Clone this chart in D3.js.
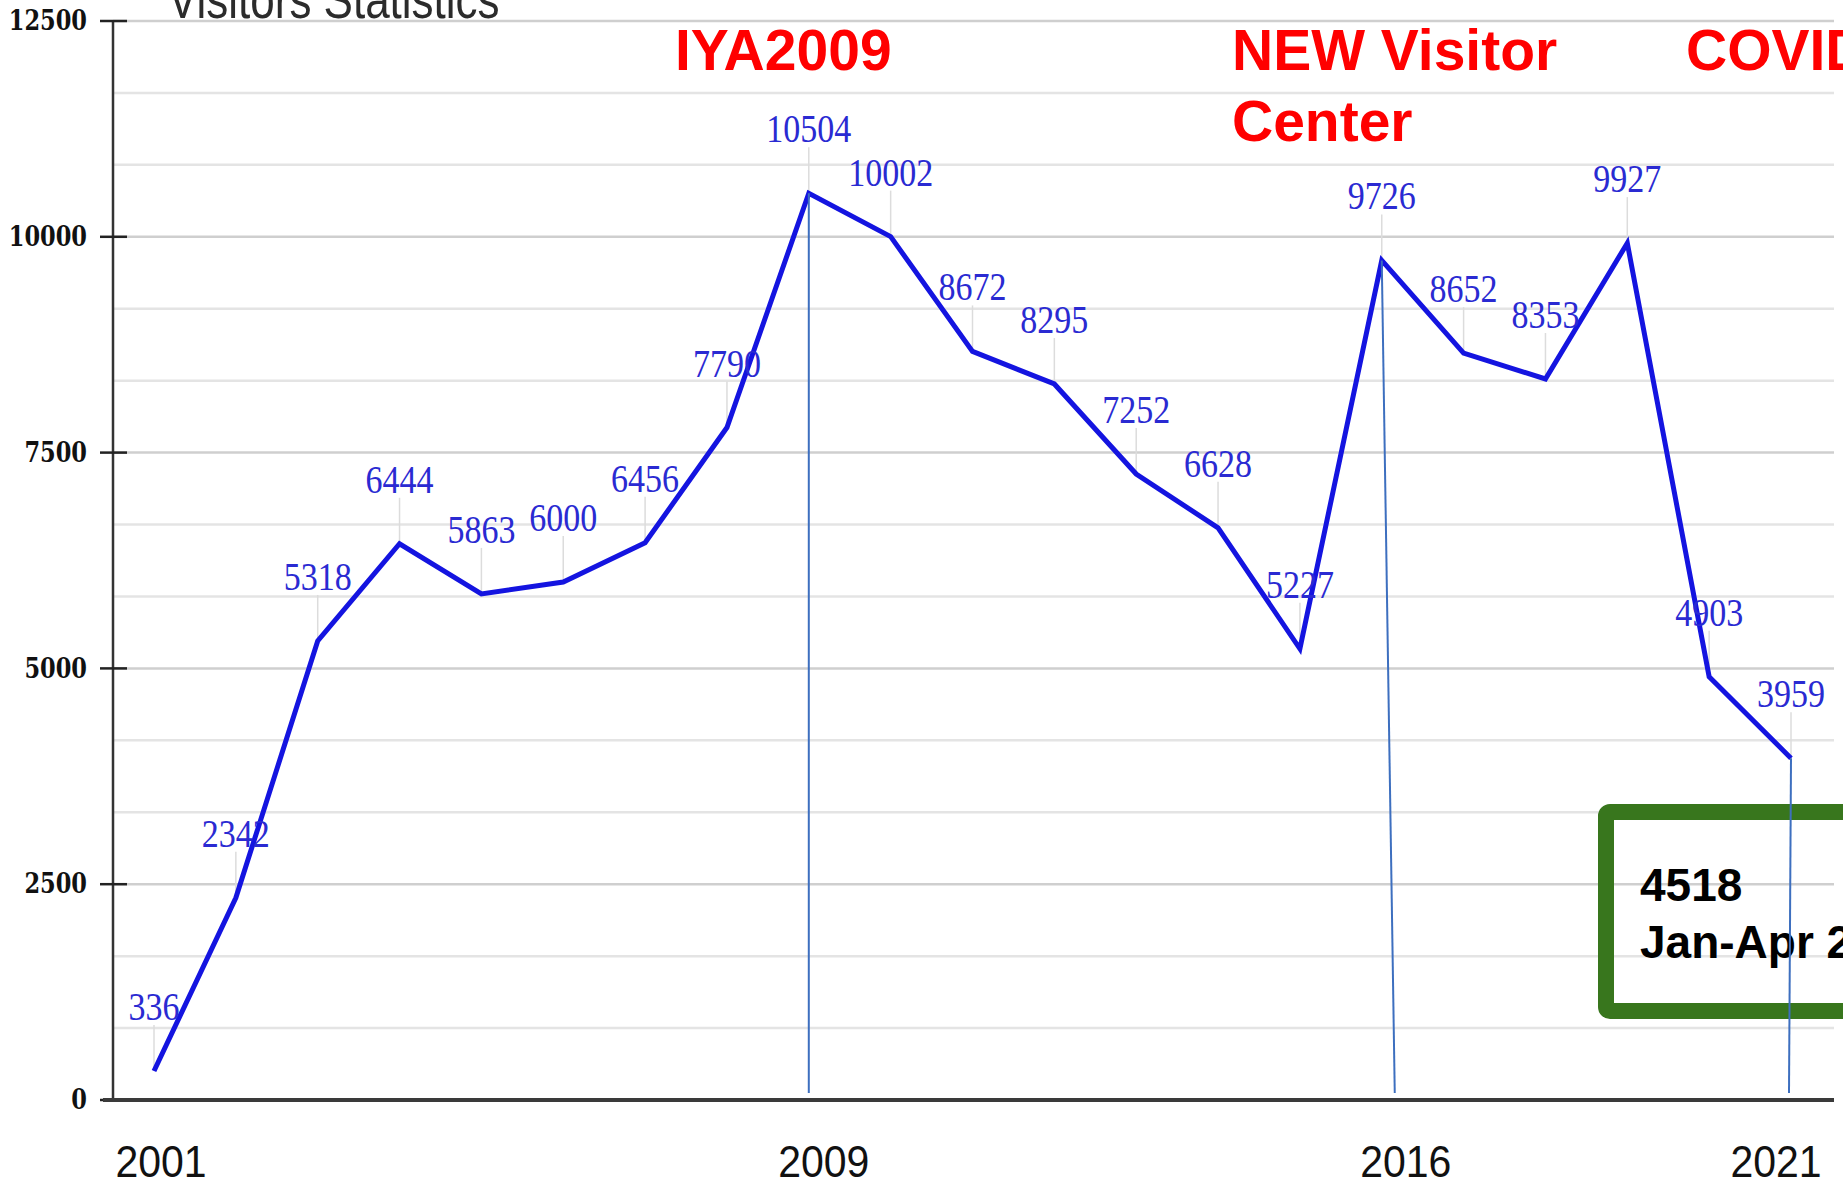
<!DOCTYPE html>
<html>
<head>
<meta charset="utf-8">
<script src="https://cdn.jsdelivr.net/npm/d3@7"></script>
<style>
  html, body { margin: 0; padding: 0; background: #fff; overflow: hidden; }
  svg { display: block; }
</style>
</head>
<body>
<script>
// ---- data ----
const years = [2001, 2002, 2003, 2004, 2005, 2006, 2007, 2008, 2009, 2010, 2011,
               2012, 2013, 2014, 2015, 2016, 2017, 2018, 2019, 2020, 2021];
const visitors = [336, 2342, 5318, 6444, 5863, 6000, 6456, 7790, 10504, 10002, 8672,
                  8295, 7252, 6628, 5227, 9726, 8652, 8353, 9927, 4903, 3959];
const yTickValues = [0, 2500, 5000, 7500, 10000, 12500];
const xTickYears = [2001, 2009, 2016, 2021];
const markerYears = [2009, 2016, 2021];
const titleText = "Visitors Statistics";
const noteIYA = ["IYA2009"];
const noteCenter = ["NEW Visitor", "Center"];
const noteCovid = ["COVID"];
const boxLines = ["4518", "Jan-Apr 2022"];

// ---- layout ----
const W = 1843, H = 1187;
const xLabelShift = [7, 15, 24, -15];
const markerBottomShift = [0, 13, -2];

const svg = d3.select("body").append("svg").attr("width", W).attr("height", H);

const x = d3.scaleLinear().domain([2001, 2021]).range([154, 1791]);
const y = d3.scaleLinear().domain([0, 12500]).range([1100, 21]);
const plotLeft = 113, plotRight = 1834;

// stretched text helper
function stext(g, px, py, str, opts) {
  const k = opts.k || 1;
  const t = g.append("g").attr("transform", `translate(${px},${py}) scale(1,${k})`)
    .append("text")
    .attr("x", 0).attr("y", 0)
    .attr("text-anchor", opts.anchor || "start")
    .attr("font-family", opts.family)
    .attr("font-size", opts.size)
    .attr("font-weight", opts.weight || "normal")
    .attr("fill", opts.fill)
    .text(str);
  if (opts.baseline) t.attr("dominant-baseline", opts.baseline);
  return t;
}

// minor grid
const minorVals = d3.range(0, 12500 + 1, 2500 / 3).filter(v => Math.abs(v % 2500) > 1 && Math.abs(v % 2500 - 2500) > 1);
svg.append("g").selectAll("line").data(minorVals).join("line")
  .attr("x1", plotLeft).attr("x2", plotRight)
  .attr("y1", d => y(d)).attr("y2", d => y(d))
  .attr("stroke", "#e4e4e4").attr("stroke-width", 2.5);

// major grid
svg.append("g").selectAll("line").data(yTickValues.filter(v => v > 0)).join("line")
  .attr("x1", plotLeft).attr("x2", plotRight)
  .attr("y1", d => y(d)).attr("y2", d => y(d))
  .attr("stroke", "#cfcfcf").attr("stroke-width", 2.5);

// title (cut off at top, as in the reference)
stext(svg, 168, 18, titleText, {family: "Liberation Sans, Arial, sans-serif", size: 44, fill: "#2b2b2b", k: 1.2});

// y axis
svg.append("line").attr("x1", plotLeft).attr("x2", plotLeft).attr("y1", y(12500)).attr("y2", y(0))
  .attr("stroke", "#333").attr("stroke-width", 2.5);
svg.append("g").selectAll("line").data(yTickValues).join("line")
  .attr("x1", 100).attr("x2", 127)
  .attr("y1", d => y(d)).attr("y2", d => y(d))
  .attr("stroke", "#222").attr("stroke-width", 2.5);
const ylab = svg.append("g");
yTickValues.forEach(v => {
  stext(ylab, 87, y(v), String(v), {family: "DejaVu Serif, serif", size: 22.5, weight: "bold",
    fill: "#111", anchor: "end", baseline: "central", k: 1.2});
});

// x axis
svg.append("line").attr("x1", 103).attr("x2", plotRight).attr("y1", y(0)).attr("y2", y(0))
  .attr("stroke", "#3a3a3a").attr("stroke-width", 4);
const xlab = svg.append("g");
xTickYears.forEach((yr, i) => {
  stext(xlab, x(yr) + xLabelShift[i], 1177, String(yr), {family: "Liberation Sans, Arial, sans-serif",
    size: 41, fill: "#111", anchor: "middle", k: 1.1});
});

// leader lines
const pts = years.map((yr, i) => ({yr, v: visitors[i]}));
svg.append("g").selectAll("line").data(pts).join("line")
  .attr("x1", d => x(d.yr)).attr("x2", d => x(d.yr))
  .attr("y1", d => y(d.v) - 46).attr("y2", d => y(d.v))
  .attr("stroke", "#dcdcdc").attr("stroke-width", 1.5);

// data line
svg.append("path").datum(pts)
  .attr("d", d3.line().x(d => x(d.yr)).y(d => y(d.v)))
  .attr("fill", "none").attr("stroke", "#1414e0").attr("stroke-width", 5)
  .attr("stroke-linejoin", "miter");

// data labels
const dl = svg.append("g");
pts.forEach(d => {
  stext(dl, x(d.yr), y(d.v) - 51, String(d.v), {family: "Liberation Serif, Times New Roman, serif",
    size: 34, fill: "#2a2ad2", anchor: "middle", k: 1.2});
});

// red notes
const redOpts = {family: "Liberation Sans, Arial, sans-serif", size: 57, weight: "bold", fill: "#ff0000"};
stext(svg, 675, 70, noteIYA[0], redOpts);
noteCenter.forEach((s, i) => stext(svg, 1232, 70 + i * 71, s, redOpts));
stext(svg, 1686, 70, noteCovid[0], redOpts);

// green box
svg.append("rect").attr("x", 1606).attr("y", 812).attr("width", 300).attr("height", 199)
  .attr("rx", 4).attr("fill", "none").attr("stroke", "#38761d").attr("stroke-width", 16);
boxLines.forEach((s, i) => {
  stext(svg, 1640, 901 + i * 57, s, {family: "Liberation Sans, Arial, sans-serif", size: 46,
    weight: "bold", fill: "#000"});
});

// vertical marker lines
svg.append("g").selectAll("line").data(markerYears).join("line")
  .attr("x1", d => x(d)).attr("y1", d => y(visitors[years.indexOf(d)]))
  .attr("x2", (d, i) => x(d) + markerBottomShift[i]).attr("y2", y(0) - 7)
  .attr("stroke", "#3d6fbf").attr("stroke-width", 2);
</script>
</body>
</html>
